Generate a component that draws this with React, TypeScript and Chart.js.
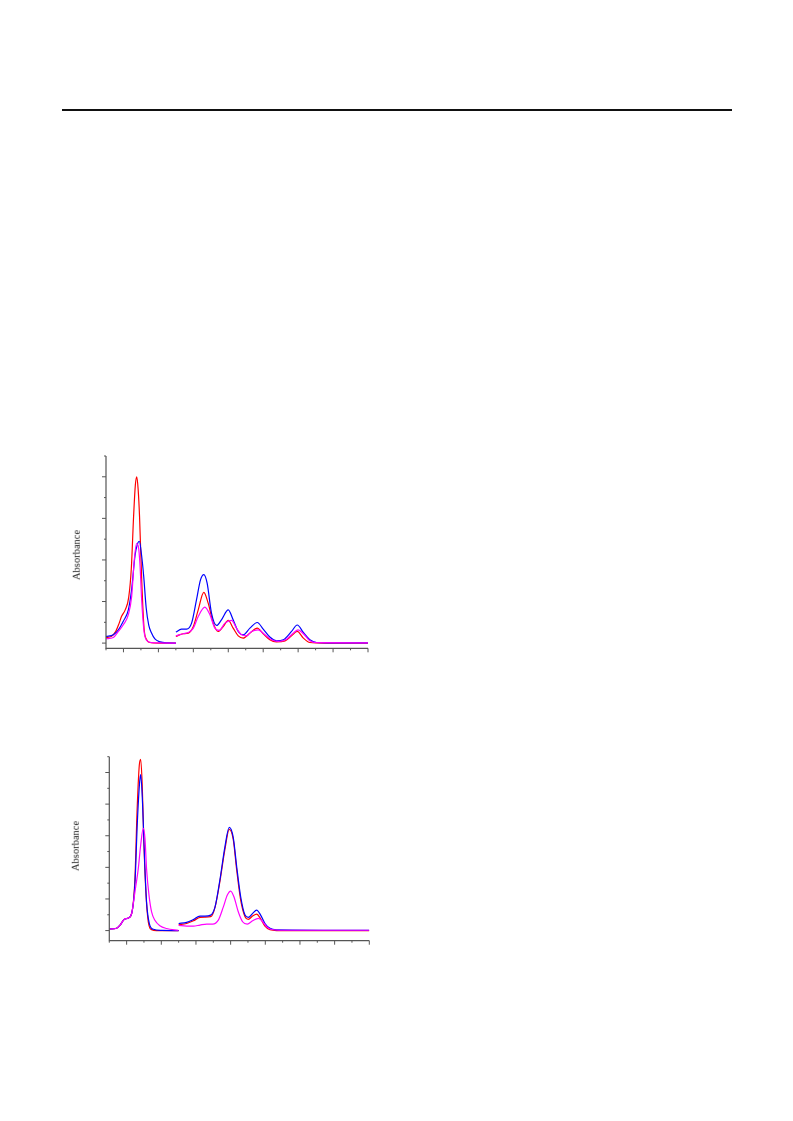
import React, { useEffect, useRef } from 'react';
import { Chart, registerables } from 'chart.js';

Chart.register(...registerables);

// ---------- data ----------
const xTickValues = [0, 1, 2, 3, 4, 5, 6, 7, 8, 9, 10, 11, 12, 13, 14, 15];
const yTicksTop = [0, 1, 2, 3, 4, 5, 6, 7, 8, 9];
const yTicksBottom = [0, 1, 2, 3, 4, 5, 6, 7, 8, 9, 10, 11];
const seriesColors = { red: '#ff0000', blue: '#0000ff', magenta: '#ff00ff' };
const axisLabel = 'Absorbance';

// Top chart (x, y)
const topRedLeft = [
  [0, 0.27], [0.3, 0.32], [0.55, 0.55], [0.75, 0.95], [0.9, 1.3], [1.1, 1.6], [1.3, 2.2],
  [1.45, 3.6], [1.58, 6.1], [1.68, 7.6], [1.76, 8.0], [1.84, 7.4], [1.92, 6.1], [2.05, 2.9],
  [2.18, 0.7], [2.33, 0.16], [2.5, 0.03], [3.0, 0.0], [4.0, 0.0],
];
const topRedRight = [
  [4.0, 0.32], [4.42, 0.45], [4.71, 0.48], [5.0, 0.8], [5.28, 1.6], [5.6, 2.44], [5.85, 1.92],
  [6.14, 0.96], [6.42, 0.56], [6.71, 0.8], [7.0, 1.09], [7.28, 0.72], [7.57, 0.35], [7.85, 0.24],
  [8.24, 0.48], [8.66, 0.72], [9.0, 0.45], [9.38, 0.16], [9.76, 0.06], [10.25, 0.11],
  [10.62, 0.35], [10.95, 0.56], [11.3, 0.24], [11.67, 0.03], [12.5, 0.0], [15, 0.0],
];
const topBlueLeft = [
  [0, 0.32], [0.42, 0.4], [0.71, 0.64], [0.99, 1.05], [1.28, 1.6], [1.47, 2.6], [1.66, 4.2],
  [1.79, 4.74], [1.91, 4.9], [2.04, 4.2], [2.16, 3.2], [2.3, 1.7], [2.45, 0.85], [2.6, 0.5],
  [2.8, 0.2], [3.1, 0.06], [3.5, 0.01], [4.0, 0.0],
];
const topBlueRight = [
  [4.0, 0.53], [4.32, 0.67], [4.61, 0.67], [4.9, 0.96], [5.18, 2.08], [5.41, 3.04], [5.6, 3.29],
  [5.79, 2.88], [6.04, 1.44], [6.33, 0.85], [6.61, 1.12], [7.0, 1.6], [7.28, 1.12], [7.57, 0.56],
  [7.85, 0.4], [8.24, 0.72], [8.66, 0.99], [9.0, 0.67], [9.38, 0.29], [9.76, 0.11], [10.15, 0.16],
  [10.62, 0.56], [10.95, 0.87], [11.3, 0.51], [11.67, 0.16], [12.05, 0.03], [13, 0.01], [15, 0.01],
];
const topMagentaLeft = [
  [0, 0.21], [0.42, 0.27], [0.71, 0.56], [0.99, 0.88], [1.28, 1.37], [1.47, 2.25], [1.62, 4.0],
  [1.75, 4.79], [1.85, 4.66], [1.95, 3.7], [2.04, 2.1], [2.18, 0.56], [2.33, 0.13], [2.62, 0.02],
  [4.0, 0.0],
];
const topMagentaRight = [
  [4.0, 0.35], [4.42, 0.45], [4.71, 0.51], [5.0, 0.72], [5.28, 1.28], [5.66, 1.73], [5.95, 1.36],
  [6.23, 0.72], [6.48, 0.61], [6.81, 0.96], [7.19, 1.09], [7.47, 0.72], [7.76, 0.4], [8.04, 0.35],
  [8.33, 0.56], [8.71, 0.64], [9.1, 0.4], [9.48, 0.16], [9.86, 0.08], [10.34, 0.19], [10.72, 0.48],
  [11.0, 0.64], [11.3, 0.45], [11.67, 0.11], [12.05, 0.02], [15, 0.01],
];

// Bottom chart (x, y)
const botRedLeft = [
  [0, 0.1], [0.42, 0.15], [0.62, 0.34], [0.85, 0.7], [1.1, 0.8], [1.29, 1.08], [1.48, 3.3],
  [1.6, 7.5], [1.73, 10.46], [1.81, 10.84], [1.9, 9.2], [2.0, 5.4], [2.12, 2.24], [2.25, 0.55],
  [2.44, 0.06], [2.73, 0.0], [4.0, 0.0],
];
const botRedRight = [
  [4.0, 0.37], [4.46, 0.45], [4.85, 0.62], [5.23, 0.83], [5.52, 0.85], [5.85, 0.88], [6.1, 1.47],
  [6.38, 3.1], [6.67, 5.14], [6.92, 6.4], [7.15, 5.77], [7.35, 3.83], [7.58, 1.93], [7.83, 0.88],
  [8.02, 0.71], [8.27, 0.92], [8.5, 1.04], [8.73, 0.75], [8.98, 0.28], [9.27, 0.05], [9.65, 0.0],
  [15, 0.0],
];
const botBlueLeft = [
  [0, 0.1], [0.42, 0.15], [0.62, 0.34], [0.85, 0.7], [1.1, 0.8], [1.29, 1.08], [1.48, 3.0],
  [1.62, 6.9], [1.75, 9.4], [1.81, 9.87], [1.92, 8.0], [2.04, 4.35], [2.15, 1.8], [2.31, 0.44],
  [2.54, 0.08], [3.0, 0.01], [4.0, 0.0],
];
const botBlueRight = [
  [4.0, 0.45], [4.46, 0.52], [4.85, 0.7], [5.23, 0.92], [5.52, 0.92], [5.85, 0.98], [6.1, 1.5],
  [6.38, 3.2], [6.67, 5.3], [6.92, 6.53], [7.15, 5.9], [7.35, 4.04], [7.58, 2.14], [7.83, 0.98],
  [8.02, 0.83], [8.27, 1.09], [8.5, 1.3], [8.73, 0.98], [8.98, 0.45], [9.27, 0.14], [9.65, 0.05],
  [15, 0.02],
];
const botMagentaLeft = [
  [0, 0.1], [0.42, 0.15], [0.62, 0.34], [0.85, 0.7], [1.1, 0.8], [1.29, 1.08], [1.48, 2.45],
  [1.67, 3.9], [1.81, 5.4], [1.96, 6.46], [2.06, 5.8], [2.15, 3.9], [2.29, 2.24], [2.44, 1.18],
  [2.63, 0.65], [2.92, 0.3], [3.31, 0.13], [3.98, 0.02],
];
const botMagentaRight = [
  [4.0, 0.33], [4.46, 0.28], [4.85, 0.28], [5.23, 0.35], [5.62, 0.41], [5.96, 0.41], [6.29, 0.66],
  [6.58, 1.5], [6.81, 2.25], [7.0, 2.5], [7.19, 2.14], [7.44, 1.19], [7.69, 0.56], [7.96, 0.41],
  [8.27, 0.62], [8.6, 0.77], [8.85, 0.56], [9.08, 0.24], [9.37, 0.07], [10, 0.02], [15, 0.02],
];

// ---------- helpers ----------
const toPts = (arr: number[][]) => arr.map(([x, y]) => ({ x, y }));

// Chart.js draws dataset 0 last (on top); list top-most series first.
const mkDs = (arr: number[][], color: string) => ({
  data: toPts(arr),
  borderColor: color,
  borderWidth: 1.2,
  pointRadius: 0,
  fill: false,
  cubicInterpolationMode: 'monotone' as const,
});

const AXIS_COLOR = '#555555';

const axesPlugin = (yTicks: number[]) => ({
  id: 'customAxes',
  afterDatasetsDraw(chart: any) {
    const { ctx, chartArea } = chart;
    const xs = chart.scales.x;
    const ys = chart.scales.y;
    ctx.save();
    ctx.strokeStyle = AXIS_COLOR;
    ctx.lineWidth = 1.2;
    ctx.beginPath();
    ctx.moveTo(chartArea.left, chartArea.top);
    ctx.lineTo(chartArea.left, chartArea.bottom);
    ctx.lineTo(chartArea.right, chartArea.bottom);
    ctx.stroke();
    ctx.lineWidth = 1;
    ctx.beginPath();
    xTickValues.forEach((v) => {
      const px = xs.getPixelForValue(v);
      const len = v % 2 === 1 ? 4 : 2;
      ctx.moveTo(px, chartArea.bottom);
      ctx.lineTo(px, chartArea.bottom + len);
    });
    yTicks.forEach((v) => {
      const py = ys.getPixelForValue(v);
      const len = v % 2 === 0 ? 4 : 2;
      ctx.moveTo(chartArea.left, py);
      ctx.lineTo(chartArea.left - len, py);
    });
    ctx.stroke();
    ctx.restore();
  },
});

type PanelProps = {
  left: number;
  top: number;
  width: number;
  height: number;
  padding: { left: number; top: number; right: number; bottom: number };
  yMin: number;
  yMax: number;
  yTicks: number[];
  series: { arr: number[][]; color: string }[];
};

function Panel(props: PanelProps) {
  const ref = useRef<HTMLCanvasElement | null>(null);
  useEffect(() => {
    if (!ref.current) return;
    const chart = new Chart(ref.current, {
      type: 'line',
      data: { datasets: props.series.map((s) => mkDs(s.arr, s.color)) as any },
      options: {
        responsive: false,
        animation: false,
        maintainAspectRatio: false,
        layout: { padding: props.padding },
        plugins: { legend: { display: false }, tooltip: { enabled: false } },
        events: [],
        scales: {
          x: { type: 'linear', min: 0, max: 15, display: false },
          y: { type: 'linear', min: props.yMin, max: props.yMax, display: false },
        },
      },
      plugins: [axesPlugin(props.yTicks)],
    });
    return () => chart.destroy();
  }, []);
  return (
    <canvas
      ref={ref}
      width={props.width}
      height={props.height}
      style={{ position: 'absolute', left: props.left, top: props.top, width: props.width, height: props.height }}
    />
  );
}

function Label({ cx, cy }: { cx: number; cy: number }) {
  return (
    <div
      style={{
        position: 'absolute',
        left: cx,
        top: cy,
        transform: 'translate(-50%, -50%) rotate(-90deg)',
        whiteSpace: 'nowrap',
        fontFamily: '"Liberation Serif", "DejaVu Serif", serif',
        fontSize: '10.5px',
        color: '#222',
        lineHeight: 1,
      }}
    >
      {axisLabel}
    </div>
  );
}

export default function App() {
  return (
    <div style={{ position: 'absolute', left: 0, top: 0, width: 793, height: 1121, background: '#fff', overflow: 'hidden' }}>
      <div style={{ position: 'absolute', left: 62, top: 109, width: 670, height: 2, background: '#111' }} />
      <Panel
        left={60}
        top={440}
        width={320}
        height={230}
        padding={{ left: 46, top: 16, right: 12, bottom: 21.7 }}
        yMin={-0.25}
        yMax={9}
        yTicks={yTicksTop}
        series={[
          { arr: topMagentaLeft, color: seriesColors.magenta },
          { arr: topMagentaRight, color: seriesColors.magenta },
          { arr: topBlueLeft, color: seriesColors.blue },
          { arr: topBlueRight, color: seriesColors.blue },
          { arr: topRedLeft, color: seriesColors.red },
          { arr: topRedRight, color: seriesColors.red },
        ]}
      />
      <Label cx={77} cy={555} />
      <Panel
        left={60}
        top={740}
        width={320}
        height={220}
        padding={{ left: 49.3, top: 16.7, right: 10.7, bottom: 19.3 }}
        yMin={-0.64}
        yMax={11}
        yTicks={yTicksBottom}
        series={[
          { arr: botMagentaLeft, color: seriesColors.magenta },
          { arr: botMagentaRight, color: seriesColors.magenta },
          { arr: botBlueLeft, color: seriesColors.blue },
          { arr: botBlueRight, color: seriesColors.blue },
          { arr: botRedLeft, color: seriesColors.red },
          { arr: botRedRight, color: seriesColors.red },
        ]}
      />
      <Label cx={76} cy={846} />
    </div>
  );
}
